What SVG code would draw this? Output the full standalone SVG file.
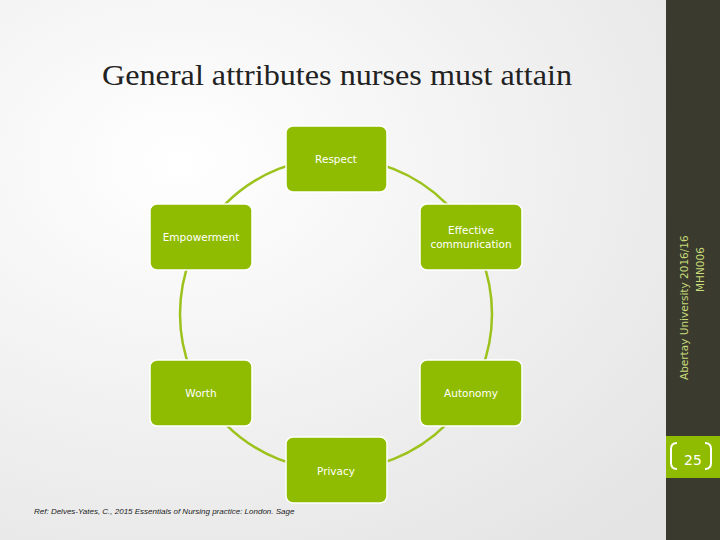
<svg xmlns="http://www.w3.org/2000/svg" width="720" height="540" viewBox="0 0 720 540">
<defs>
<radialGradient id="bg" cx="0.25" cy="0.3" r="0.9"><stop offset="0" stop-color="#ffffff"/><stop offset="1" stop-color="#e4e4e4"/></radialGradient>
<style>
.n{fill:#8fbc00;stroke:#ffffff;stroke-width:1.5}
.t{font-family:"DejaVu Sans",sans-serif;font-size:10.5px;fill:#ffffff;text-anchor:middle}
.c{fill:none;stroke:#9cc21c;stroke-width:2.5}
</style>
</defs>
<rect width="720" height="540" fill="url(#bg)"/>
<rect x="666" y="0" width="54" height="540" fill="#3b3a2e"/>
<rect x="666" y="436" width="54" height="42" fill="#8fbc00"/>
<text transform="translate(688,380) rotate(-90)" font-family="DejaVu Sans,sans-serif" font-size="10.5" fill="#c8dc7a">Abertay University 2016/16</text>
<text transform="translate(704,292) rotate(-90)" font-family="DejaVu Sans,sans-serif" font-size="10.5" fill="#c8dc7a">MHN006</text>
<path d="M677 443 q-6 0 -6 6 v14 q0 6 6 6 M705 443 q6 0 6 6 v14 q0 6 -6 6" fill="none" stroke="#ffffff" stroke-width="2"/>
<text x="693" y="465" font-family="DejaVu Sans,sans-serif" font-size="14" fill="#ffffff" text-anchor="middle">25</text>
<text x="102" y="85" font-family="Liberation Serif,serif" font-size="29" fill="#222" textLength="470" lengthAdjust="spacingAndGlyphs">General attributes nurses must attain</text>
<g id="connectors"><circle class="c" cx="336" cy="314" r="156"/></g>
<g id="respect"><rect class="n" x="286" y="126" width="101" height="66" rx="7"/><text class="t" x="336" y="163">Respect</text></g>
<g id="effective"><rect class="n" x="420" y="204" width="102" height="66" rx="7"/><text class="t" x="471" y="234">Effective</text><text class="t" x="471" y="248">communication</text></g>
<g id="autonomy"><rect class="n" x="420" y="360" width="102" height="66" rx="7"/><text class="t" x="471" y="397">Autonomy</text></g>
<g id="privacy"><rect class="n" x="286" y="437" width="101" height="66" rx="7"/><text class="t" x="336" y="475">Privacy</text></g>
<g id="worth"><rect class="n" x="150" y="360" width="102" height="66" rx="7"/><text class="t" x="201" y="397">Worth</text></g>
<g id="empowerment"><rect class="n" x="150" y="204" width="102" height="66" rx="7"/><text class="t" x="201" y="241">Empowerment</text></g>
<text x="34" y="514" font-family="Liberation Sans,sans-serif" font-style="italic" font-size="8" fill="#222">Ref: Delves-Yates, C., 2015 Essentials of Nursing practice: London. Sage</text>
</svg>
